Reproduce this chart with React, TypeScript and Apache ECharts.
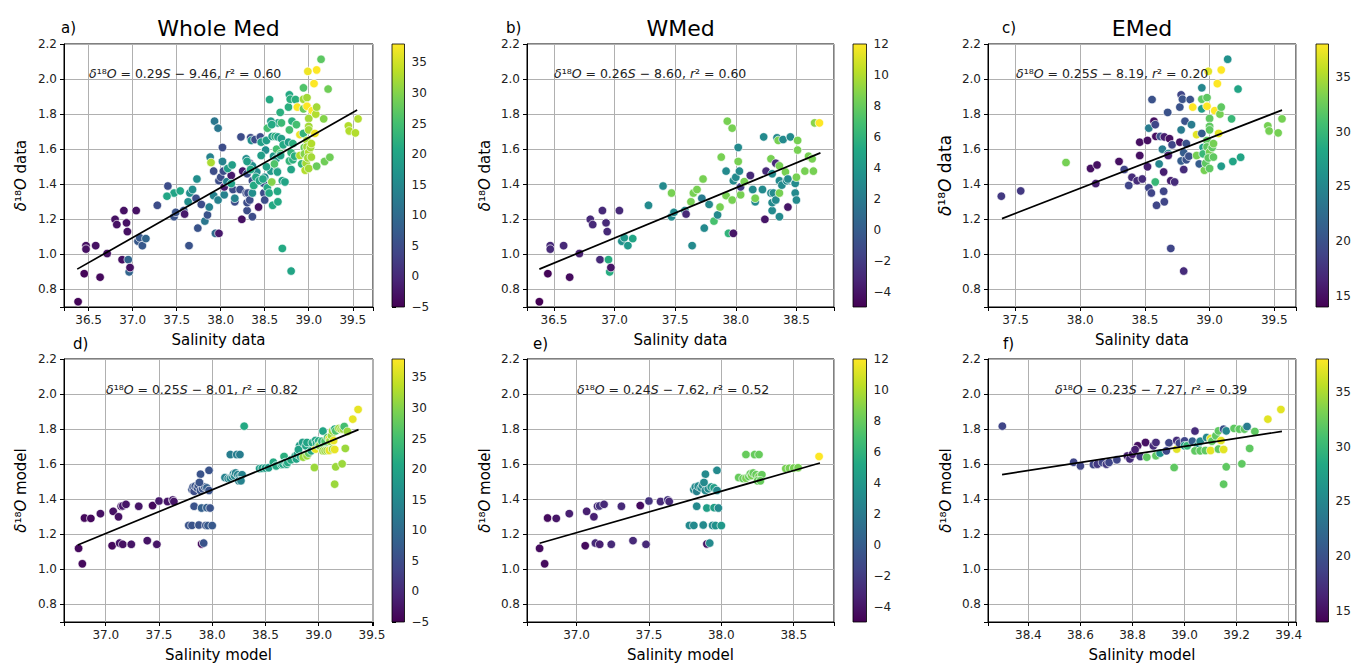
import { useEffect, useRef } from 'react';
import * as echarts from 'echarts';

// ---------- DATA ----------
const titles = ['Whole Med', 'WMed', 'EMed'];
const panelLetters = ['a)', 'b)', 'c)', 'd)', 'e)', 'f)'];
const xAxisNames = ['Salinity data', 'Salinity model'];
const yAxisNames = ['data', 'model'];
const equations = [
  ['0.29', '9.46', '0.60'],
  ['0.26', '8.60', '0.60'],
  ['0.25', '8.19', '0.20'],
  ['0.25', '8.01', '0.82'],
  ['0.24', '7.62', '0.52'],
  ['0.23', '7.27', '0.39'],
];

// [salinity, d18O, colour value]
const wholeData: number[][] = [
  [36.38,0.73,-4.5],[36.45,0.89,-4.5],[36.47,1.05,-3],[36.47,1.03,-3],[36.58,1.05,-3],[36.71,1.005,-3],[36.63,0.87,-4],
  [36.8,1.2,-3],[36.82,1.17,-3],[36.9,1.25,-3],[36.93,1.18,-3],[36.94,1.13,-3],[36.88,0.97,-3],[36.95,0.97,9],
  [36.96,0.9,9],[36.97,0.925,-3],[37.04,1.25,-3],[37.06,1.075,7],[37.08,1.095,7],[37.11,1.05,7],[37.15,1.09,9],
  [37.28,1.28,5],[37.4,1.39,5],[37.47,1.35,20],[37.47,1.215,6],[37.49,1.24,6],[37.58,1.25,6],[37.59,1.23,-2],
  [37.63,1.3,16],[37.65,1.35,16],[37.68,1.37,16],[37.73,1.43,16],[37.64,1.05,6],[37.72,1.32,5],[37.74,1.15,6],
  [37.78,1.285,5],[37.82,1.19,12],[37.85,1.225,6],[37.88,1.555,14],[37.87,1.27,14],[37.92,1.475,5],[37.92,1.335,14],
  [37.93,1.76,12],[37.97,1.72,12],[37.94,1.12,10],[37.98,1.12,-2],[37.97,1.31,14],[37.98,1.42,5],[38.0,1.44,5],
  [38.02,1.61,5],[38.02,1.53,14],[38.03,1.475,5],[38.04,1.34,14],[38.04,1.385,-2],[38.07,1.415,14],[38.12,1.45,-2],
  [38.14,1.37,5],[38.16,1.3,5],[38.16,1.32,14],[38.23,1.67,5],[38.22,1.37,5],[38.24,1.2,-3],[38.25,1.475,-2],
  [38.29,1.545,16],[38.3,1.46,5],[38.29,1.35,5],[38.31,1.35,5],[38.3,1.25,5],[38.3,1.295,5],[38.33,1.52,-2],
  [38.33,1.31,5],[38.34,1.665,5],[38.35,1.65,16],[38.36,1.505,16],[38.36,1.42,5],[38.36,1.215,5],[38.36,1.35,16],
  [38.39,1.655,5],[38.38,1.395,5],[38.41,1.47,16],[38.42,1.42,5],[38.43,1.27,-3],[38.45,1.67,5],[38.43,1.43,5],
  [38.49,1.35,5],[38.5,1.31,5],[38.49,1.405,5],[38.51,1.65,16],[38.51,1.595,16],[38.5,1.44,16],[38.57,1.475,18],
  [38.6,1.56,18],[38.63,1.545,18],[38.64,1.475,18],[38.65,1.75,20],[38.69,1.75,24],
  [37.39,1.332,20.5],[37.54,1.362,20.5],[37.89,1.524,32.5],[38.08,1.49,19],[38.13,1.51,19],[38.12,1.404,19.5],
  [38.3,1.53,19],[38.34,1.484,21],[38.375,1.393,21],[38.4,1.44,20],[38.44,1.42,20],[38.46,1.64,19],[38.46,1.564,19],
  [38.48,1.43,20],[38.52,1.5,19.5],[38.52,1.65,19],[38.53,1.72,25],[38.53,1.38,21],[38.55,1.35,21],[38.555,1.883,21],
  [38.57,1.76,19],[38.58,1.74,21],[38.58,1.413,30],[38.585,1.673,19],[38.59,1.28,21],[38.61,1.516,26],[38.62,1.673,22],
  [38.635,1.6,25],[38.645,1.47,19.5],[38.645,1.36,21],[38.65,1.3,21],[38.65,1.67,19.5],[38.676,1.81,22],[38.68,1.575,26],
  [38.68,1.564,19.5],[38.69,1.66,19],[38.7,1.42,19.5],[38.7,1.034,21],[38.73,1.413,20],[38.71,1.625,21],[38.77,1.64,19],
  [38.77,1.84,22],[38.78,1.91,21],[38.79,1.885,22],[38.78,1.71,25],[38.78,1.533,23],[38.8,1.484,20],[38.8,1.58,23],
  [38.8,0.905,20],[38.81,1.76,22],[38.82,1.632,22],[38.82,1.54,22],[38.85,1.883,22],[38.86,1.74,25],[38.84,1.56,22],
  [38.87,1.84,38],[38.9,1.683,37],[38.9,1.564,33],[38.92,1.516,23],[38.94,1.95,26],[38.94,1.885,32],[38.94,1.83,28],
  [38.94,1.69,23],[38.95,1.61,28],[38.95,1.573,30],[38.96,1.48,33],[38.97,1.52,32],[38.98,1.894,32],[38.98,1.845,38],
  [38.98,1.65,32],[38.98,1.613,32],[38.99,2.044,37],[39.0,1.775,32],[39.0,1.73,32],[39.0,1.71,32],[39.0,1.583,33],
  [39.0,1.49,32],[38.99,1.55,32],[39.02,1.61,32],[39.03,1.632,33],[39.03,1.555,32],[39.04,1.82,38],[39.06,1.974,38],
  [39.09,2.052,38],[39.08,1.8,33],[39.09,1.84,32],[39.07,1.69,37],[39.09,1.503,28],[39.14,2.113,27],[39.17,1.773,30],
  [39.18,1.53,28.5],[39.22,1.943,28.5],[39.24,1.554,28.5],[39.45,1.733,33],[39.46,1.704,33],[39.53,1.693,33],[39.56,1.773,33],
];

const wmedData: number[][] = [
  [36.38,0.73,-5],[36.45,0.89,-4.8],[36.47,1.05,-3],[36.47,1.03,-3],[36.58,1.05,-3],[36.71,1.005,-3.5],[36.63,0.87,-4.5],
  [36.8,1.2,-3],[36.82,1.17,-3],[36.9,1.25,-3],[36.93,1.18,-3],[36.94,1.13,-3],[36.88,0.97,-3],[36.95,0.97,5.5],
  [36.96,0.9,5.5],[36.97,0.925,-4],[37.04,1.25,-3],[37.06,1.075,3.5],[37.08,1.095,4],[37.11,1.05,4],[37.15,1.09,5],
  [37.28,1.28,3],[37.4,1.39,3],[37.47,1.35,8.5],[37.47,1.215,3],[37.49,1.24,3],[37.58,1.25,3],[37.59,1.23,-3],
  [37.63,1.3,8.5],[37.65,1.35,8.5],[37.68,1.37,8.5],[37.73,1.43,8.5],[37.64,1.05,3],[37.72,1.32,2],[37.74,1.15,3],
  [37.78,1.285,3],[37.82,1.19,7],[37.85,1.225,3],[37.88,1.555,8.5],[37.87,1.27,8.5],[37.92,1.475,3],[37.92,1.335,8.5],
  [37.93,1.76,8.5],[37.97,1.72,8.5],[37.94,1.12,6],[37.98,1.12,-4],[37.97,1.31,8.5],[37.98,1.42,3],[38.0,1.44,3],
  [38.02,1.61,3],[38.02,1.53,8.5],[38.03,1.475,3],[38.04,1.34,8.5],[38.04,1.385,-2],[38.07,1.415,8.5],[38.12,1.45,-3],
  [38.14,1.37,3],[38.16,1.3,3],[38.16,1.32,8.5],[38.23,1.67,3],[38.22,1.37,3],[38.24,1.2,-4],[38.25,1.475,-3],
  [38.29,1.545,8.5],[38.3,1.46,3],[38.29,1.35,3],[38.31,1.35,3],[38.3,1.25,3],[38.3,1.295,3],[38.33,1.52,-3],
  [38.33,1.31,3],[38.34,1.665,3],[38.35,1.65,8.5],[38.36,1.505,8.5],[38.36,1.42,3],[38.36,1.215,3],[38.36,1.35,8.5],
  [38.39,1.655,3],[38.38,1.395,3],[38.41,1.47,8.5],[38.42,1.42,3],[38.43,1.27,-4],[38.45,1.67,3],[38.43,1.43,3],
  [38.49,1.35,3],[38.5,1.31,3],[38.49,1.405,3],[38.51,1.65,8.5],[38.51,1.595,8.5],[38.5,1.44,8.5],[38.57,1.475,8.5],
  [38.6,1.56,8.5],[38.63,1.545,8.5],[38.64,1.475,8.5],[38.65,1.75,9],[38.69,1.75,12],
];

const emedData: number[][] = [
  [37.39,1.332,18],[37.54,1.362,18],[37.89,1.524,33],[38.08,1.49,15],[38.13,1.51,15],[38.12,1.404,16],[38.3,1.53,15],
  [38.34,1.484,19],[38.375,1.393,19],[38.4,1.44,17],[38.44,1.42,17],[38.46,1.64,15],[38.46,1.564,15],[38.48,1.43,17],
  [38.52,1.5,16],[38.52,1.65,15],[38.53,1.72,24],[38.53,1.38,19],[38.55,1.35,19],[38.555,1.883,20],[38.57,1.76,15],
  [38.58,1.74,19],[38.58,1.413,30],[38.585,1.673,15],[38.59,1.28,19],[38.61,1.516,25],[38.62,1.673,20],[38.635,1.6,24],
  [38.645,1.47,16],[38.645,1.36,19],[38.65,1.3,19],[38.65,1.67,16],[38.676,1.81,20],[38.68,1.575,25],[38.68,1.564,16],
  [38.69,1.66,15],[38.7,1.42,16],[38.7,1.034,19],[38.73,1.413,17],[38.71,1.625,19],[38.77,1.64,15],[38.77,1.84,20],
  [38.78,1.91,19],[38.79,1.885,20],[38.78,1.71,24],[38.78,1.533,21],[38.8,1.484,17],[38.8,1.58,21],[38.8,0.905,17],
  [38.81,1.76,20],[38.82,1.632,20],[38.82,1.54,20],[38.85,1.883,20],[38.86,1.74,24],[38.84,1.56,20],[38.87,1.84,38],
  [38.9,1.683,37],[38.9,1.564,33],[38.92,1.516,21],[38.94,1.95,25],[38.94,1.885,32],[38.94,1.83,27],[38.94,1.69,21],
  [38.95,1.61,27],[38.95,1.573,30],[38.96,1.48,33],[38.97,1.52,32],[38.98,1.894,32],[38.98,1.845,38],[38.98,1.65,32],
  [38.98,1.613,32],[38.99,2.044,37],[39.0,1.775,32],[39.0,1.73,32],[39.0,1.71,32],[39.0,1.583,33],[39.0,1.49,32],
  [38.99,1.55,32],[39.02,1.61,32],[39.03,1.632,33],[39.03,1.555,32],[39.04,1.82,38],[39.06,1.974,38],[39.09,2.052,38],
  [39.08,1.8,33],[39.09,1.84,32],[39.07,1.69,37],[39.09,1.503,27],[39.14,2.113,26],[39.17,1.773,30],[39.18,1.53,28],
  [39.22,1.943,28],[39.24,1.554,28],[39.45,1.733,33],[39.46,1.704,33],[39.53,1.693,33],[39.56,1.773,33],
];

const wholeModel: number[][] = [
  [36.745,1.12,-4],[36.78,1.032,-4],[36.8,1.293,-4],[36.86,1.291,-4],[36.95,1.318,-3],[37.06,1.135,-4],[37.07,1.331,-3],
  [37.12,1.3,-3],[37.13,1.15,-2.5],[37.16,1.143,-3],[37.145,1.36,-2.5],[37.16,1.362,-2],[37.19,1.371,-2.5],[37.24,1.143,-2.5],
  [37.31,1.36,-2.5],[37.39,1.164,-2.5],[37.44,1.364,-4],[37.48,1.143,-2.5],[37.5,1.39,-2],[37.58,1.387,-2.5],[37.63,1.396,-2],
  [37.64,1.387,-2.5],[37.78,1.251,6],[37.81,1.251,6],[37.875,1.253,6],[37.94,1.251,6],[37.96,1.25,7],[38.0,1.25,7],
  [37.83,1.36,6],[37.9,1.35,8],[37.95,1.352,8],[37.98,1.35,6],[37.81,1.455,6],[37.82,1.47,6],[37.83,1.445,5],[37.84,1.475,6],
  [37.86,1.465,6],[37.87,1.48,6],[37.89,1.45,6],[37.91,1.46,6],[37.93,1.47,7],[37.95,1.465,8],[37.97,1.45,6],[37.89,1.543,6],
  [37.88,1.496,6],[37.97,1.565,6],[37.9,1.145,-4],[37.92,1.15,6],[38.12,1.524,14],[38.15,1.518,14],[38.17,1.52,15],
  [38.19,1.53,14],[38.2,1.545,14],[38.21,1.535,15],[38.22,1.55,14],[38.24,1.54,14],[38.26,1.53,15],[38.28,1.54,14],
  [38.25,1.505,14],[38.27,1.505,14],[38.17,1.655,13],[38.23,1.655,13],[38.26,1.655,13],[38.445,1.575,19],[38.47,1.577,19],
  [38.5,1.578,19],[38.53,1.58,19],[38.675,1.644,22],
  [38.3,1.817,21],[38.574,1.611,21],[38.6,1.59,21],[38.65,1.598,21],[38.665,1.6,20.5],[38.685,1.61,21],[38.7,1.6,20.5],
  [38.71,1.61,21],[38.74,1.625,21],[38.78,1.647,19.5],[38.79,1.63,20],[38.8,1.657,19.5],[38.82,1.705,19],[38.81,1.683,19.5],
  [38.83,1.644,20.5],[38.85,1.724,19],[38.855,1.64,31.5],[38.88,1.705,20],[38.89,1.724,20],[38.89,1.648,31.5],[38.906,1.663,27],
  [38.94,1.722,21],[38.93,1.676,21],[38.96,1.581,31.5],[38.97,1.686,36.5],[38.97,1.735,20],[38.98,1.72,21],[39.0,1.733,21],
  [39.0,1.705,28],[39.01,1.705,30],[39.03,1.731,23],[39.04,1.789,20],[39.05,1.705,27],[39.04,1.676,31.5],[39.06,1.676,31.5],
  [39.08,1.678,31.5],[39.1,1.678,36.5],[39.06,1.731,26],[39.085,1.752,26],[39.1,1.746,36.5],[39.105,1.731,31.5],[39.12,1.762,31.5],
  [39.13,1.79,31.5],[39.13,1.686,31.5],[39.15,1.684,36.5],[39.14,1.735,36.5],[39.15,1.486,31.5],[39.16,1.585,31.5],[39.15,1.8,22],
  [39.16,1.79,26],[39.19,1.804,31.5],[39.21,1.8,31.5],[39.23,1.8,31.5],[39.24,1.815,25],[39.22,1.602,31.5],[39.25,1.69,31.5],
  [39.27,1.787,31.5],[39.32,1.857,36.5],[39.37,1.912,36.5],
];

const wmedModel: number[][] = [
  [36.745,1.12,-4.5],[36.78,1.032,-4.5],[36.8,1.293,-4.5],[36.86,1.291,-4],[36.95,1.318,-3.5],[37.06,1.135,-4.5],[37.07,1.331,-3.5],
  [37.12,1.3,-3.5],[37.13,1.15,-3],[37.16,1.143,-3.5],[37.145,1.36,-3],[37.16,1.362,-2.5],[37.19,1.371,-3],[37.24,1.143,-3],
  [37.31,1.36,-3],[37.39,1.164,-3],[37.44,1.364,-4.5],[37.48,1.143,-3],[37.5,1.39,-2.5],[37.58,1.387,-3],[37.63,1.396,-2.5],
  [37.64,1.387,-3],[37.78,1.251,3],[37.81,1.251,3],[37.875,1.253,3],[37.94,1.251,3],[37.96,1.25,3.5],[38.0,1.25,4],
  [37.83,1.36,3],[37.9,1.35,4.5],[37.95,1.352,4.5],[37.98,1.35,3],[37.81,1.455,3],[37.82,1.47,3],[37.83,1.445,2.5],[37.84,1.475,3],
  [37.86,1.465,3],[37.87,1.48,3],[37.89,1.45,3],[37.91,1.46,3],[37.93,1.47,4],[37.95,1.465,4.5],[37.97,1.45,3],[37.89,1.543,3],
  [37.88,1.496,3],[37.97,1.565,3],[37.9,1.145,-4],[37.92,1.15,3],[38.12,1.524,8],[38.15,1.518,8],[38.17,1.52,8.5],
  [38.19,1.53,8],[38.2,1.545,8],[38.21,1.535,8.5],[38.22,1.55,8],[38.24,1.54,8],[38.26,1.53,8.5],[38.28,1.54,8],
  [38.25,1.505,8],[38.27,1.505,8],[38.17,1.655,8],[38.23,1.655,8],[38.26,1.655,8],[38.445,1.575,8.5],[38.47,1.577,8.5],
  [38.5,1.578,8.5],[38.53,1.58,8.5],[38.675,1.644,12],
];

const emedModel: number[][] = [
  [38.3,1.817,19],[38.574,1.611,19],[38.6,1.59,19],[38.65,1.598,19],[38.665,1.6,18],[38.685,1.61,19],[38.7,1.6,18],
  [38.71,1.61,19],[38.74,1.625,19],[38.78,1.647,16],[38.79,1.63,17],[38.8,1.657,16],[38.82,1.705,15],[38.81,1.683,16],
  [38.83,1.644,18],[38.85,1.724,15],[38.855,1.64,32],[38.88,1.705,17],[38.89,1.724,17],[38.89,1.648,32],[38.906,1.663,26],
  [38.94,1.722,19],[38.93,1.676,19],[38.96,1.581,32],[38.97,1.686,37],[38.97,1.735,17],[38.98,1.72,19],[39.0,1.733,19],
  [39.0,1.705,27],[39.01,1.705,30],[39.03,1.731,21],[39.04,1.789,17],[39.05,1.705,26],[39.04,1.676,32],[39.06,1.676,32],
  [39.08,1.678,32],[39.1,1.678,37],[39.06,1.731,25],[39.085,1.752,25],[39.1,1.746,37],[39.105,1.731,32],[39.12,1.762,32],
  [39.13,1.79,32],[39.13,1.686,32],[39.15,1.684,37],[39.14,1.735,37],[39.15,1.486,32],[39.16,1.585,32],[39.15,1.8,20],
  [39.16,1.79,25],[39.19,1.804,32],[39.21,1.8,32],[39.23,1.8,32],[39.24,1.815,24],[39.22,1.602,32],[39.25,1.69,32],
  [39.27,1.787,32],[39.32,1.857,37],[39.37,1.912,37],
];

// regression line end points
const fitWhole = [[36.37, 0.916], [39.55, 1.823]];
const fitWmed = [[36.38, 0.916], [38.698, 1.579]];
const fitEmed = [[37.395, 1.204], [39.56, 1.823]];
const fitWholeModel = [[36.737, 1.139], [39.374, 1.797]];
const fitWmedModel = [[36.745, 1.149], [38.681, 1.607]];
const fitEmedModel = [[38.299, 1.541], [39.374, 1.787]];

const xRanges = [[36.22, 39.73], [36.278, 38.81], [37.287, 39.668], [36.608, 39.51], [36.658, 38.778], [38.245, 39.428]];
const xSteps = [0.5, 0.5, 0.5, 0.5, 0.5, 0.2];
const yRange = [0.7, 2.2];
const yStep = 0.2;
const colorRanges = [[-5, 38], [-5, 12], [14, 38], [-5, 38], [-5, 12], [14, 38]];
const colorTicks = [[-5, 35, 5], [-4, 12, 2], [15, 35, 5], [-5, 35, 5], [-4, 12, 2], [15, 35, 5]];

const viridis = ['#440154', '#482475', '#414487', '#355f8d', '#2a788e', '#21918c', '#22a884', '#44bf70', '#7ad151', '#bddf26', '#fde725'];

// ---------- LAYOUT ----------
const FONT = 'DejaVu Sans';
const COLS = [
  { left: 64, width: 309, cb: 392, cbw: 12.5, nameGap: 36, eqX: 89, letterX: 61 },
  { left: 527, width: 307, cb: 853, cbw: 13.5, nameGap: 35, eqX: 554, letterX: 506 },
  { left: 988, width: 308, cb: 1316, cbw: 12.5, nameGap: 35, eqX: 1016, letterX: 1002 },
];
const ROWS = [
  { top: 44, height: 263, eqY: 73, letterY: 28 },
  { top: 359, height: 263, eqY: 389, letterY: 344 },
];
const bottomEqX = [106, 577, 1055];
const bottomLetterX = [73, 533, 1003];

const isMultiple = (v: number, step: number) => Math.abs(v / step - Math.round(v / step)) < 1e-6;
const minus = (s: string) => s.replace('-', '\u2212');

export default function App() {
  const ref = useRef<HTMLDivElement>(null);
  useEffect(() => {
    document.body.style.margin = '0';
    const chart = echarts.init(ref.current!, null, { renderer: 'svg' });
    const datasets = [wholeData, wmedData, emedData, wholeModel, wmedModel, emedModel];
    const fits = [fitWhole, fitWmed, fitEmed, fitWholeModel, fitWmedModel, fitEmedModel];

    const plotGrids: any[] = [], cbGrids: any[] = [];
    const plotX: any[] = [], cbX: any[] = [];
    const plotY: any[] = [], cbY: any[] = [];
    const scatters: any[] = [], lines: any[] = [];
    const visualMap: any[] = [];
    const graphic: any[] = [];
    const stops = viridis.map((c, k) => ({ offset: k / (viridis.length - 1), color: c }));

    for (let i = 0; i < 6; i++) {
      const r = Math.floor(i / 3);
      const row = ROWS[r];
      const col = COLS[i % 3];
      plotGrids.push({ left: col.left, top: row.top, width: col.width, height: row.height, show: true, borderColor: '#000', borderWidth: 1, backgroundColor: 'transparent' });
      const step = xSteps[i];
      const [xmin, xmax] = xRanges[i];
      plotX.push({
        type: 'value', gridIndex: i, min: xmin, max: xmax,
        splitNumber: Math.round((xmax - xmin) / step),
        name: xAxisNames[r], nameLocation: 'middle', nameGap: 25,
        nameTextStyle: { fontFamily: FONT, fontSize: 15, color: '#000' },
        axisLine: { show: true, lineStyle: { color: '#000', width: 1 } },
        axisTick: { show: true, inside: false, length: 4, lineStyle: { color: '#000' } },
        axisLabel: { fontFamily: FONT, fontSize: 12, color: '#222', margin: 7, formatter: (v: number) => (isMultiple(v, step) ? v.toFixed(1) : '') },
        splitLine: { show: true, lineStyle: { color: '#b0b0b0', width: 1 } },
      });
      const nameSize = i === 2 ? 17 : 15;
      plotY.push({
        type: 'value', gridIndex: i, min: yRange[0], max: yRange[1],
        splitNumber: Math.round((yRange[1] - yRange[0]) / yStep),
        name: '{i|δ}¹⁸{i|O} ' + yAxisNames[r], nameLocation: 'middle', nameGap: col.nameGap, nameRotate: 90,
        nameTextStyle: {
          fontFamily: FONT, fontSize: nameSize, color: '#000',
          rich: { i: { fontFamily: FONT, fontSize: nameSize, fontStyle: 'italic', color: '#000' } },
        },
        axisLine: { show: true, lineStyle: { color: '#000', width: 1 } },
        axisTick: { show: true, inside: false, length: 4, lineStyle: { color: '#000' } },
        axisLabel: { fontFamily: FONT, fontSize: 12, color: '#222', margin: 7, formatter: (v: number) => (isMultiple(v, yStep) ? v.toFixed(1) : '') },
        splitLine: { show: true, lineStyle: { color: '#b0b0b0', width: 1 } },
      });
      scatters.push({
        type: 'scatter', xAxisIndex: i, yAxisIndex: i, data: datasets[i], symbolSize: 8.5, z: 2,
        itemStyle: { borderColor: '#ffffff', borderWidth: 0.7, opacity: 1 },
      });
      lines.push({
        type: 'line', xAxisIndex: i, yAxisIndex: i, data: fits[i], symbol: 'none', z: 5, silent: true,
        lineStyle: { color: '#000', width: 1.7 },
      });
      const [cmin, cmax] = colorRanges[i];
      visualMap.push({ type: 'continuous', show: false, seriesIndex: i, dimension: 2, min: cmin, max: cmax, inRange: { color: viridis } });

      // colorbar
      graphic.push({
        type: 'rect', z: 10,
        shape: { x: col.cb, y: row.top, width: col.cbw, height: row.height },
        style: { fill: new echarts.graphic.LinearGradient(0, 1, 0, 0, stops), stroke: '#000', lineWidth: 0.8 },
      });
      const [tmin, tmax, tstep] = colorTicks[i];
      const yOf = (v: number) => row.top + (row.height * (cmax - v)) / (cmax - cmin);
      cbGrids.push({ left: col.cb, top: yOf(tmax), width: col.cbw, height: yOf(tmin) - yOf(tmax), show: false });
      cbX.push({ type: 'value', gridIndex: 6 + i, show: false, min: 0, max: 1 });
      cbY.push({
        type: 'value', gridIndex: 6 + i, position: 'right', min: tmin, max: tmax, interval: tstep,
        axisLine: { show: false },
        axisTick: { show: true, inside: false, length: 4, lineStyle: { color: '#000' } },
        axisLabel: { fontFamily: FONT, fontSize: 12, color: '#222', margin: 7, formatter: (v: number) => minus(String(v)) },
        splitLine: { show: false },
      });

      // equation
      const [a, b, r2] = equations[i];
      graphic.push({
        type: 'text', z: 20,
        x: r === 0 ? col.eqX : bottomEqX[i % 3], y: row.eqY,
        style: {
          text: `{i|δ}¹⁸{i|O} = ${a}{i|S} − ${b}, {i|r}² = ${r2}`,
          fontFamily: FONT, fontSize: 12.5, fill: '#222',
          align: 'left', verticalAlign: 'middle', textAlign: 'left', textVerticalAlign: 'middle',
          rich: { i: { fontFamily: FONT, fontSize: 12.5, fontStyle: 'italic', fill: '#222', color: '#222' } },
        },
      });
      // panel letter
      graphic.push({
        type: 'text', z: 20,
        x: r === 0 ? col.letterX : bottomLetterX[i % 3], y: row.letterY,
        style: { text: panelLetters[i], fontFamily: FONT, fontSize: 15, fill: '#000', align: 'left', verticalAlign: 'middle', textAlign: 'left', textVerticalAlign: 'middle' },
      });
    }
    for (let c = 0; c < 3; c++) {
      const col = COLS[c];
      graphic.push({
        type: 'text', z: 20, x: col.left + col.width / 2, y: 28,
        style: { text: titles[c], fontFamily: FONT, fontSize: 22, fill: '#000', align: 'center', verticalAlign: 'middle', textAlign: 'center', textVerticalAlign: 'middle' },
      });
    }

    chart.setOption({
      animation: false, backgroundColor: '#fff',
      grid: [...plotGrids, ...cbGrids],
      xAxis: [...plotX, ...cbX],
      yAxis: [...plotY, ...cbY],
      series: [...scatters, ...lines],
      visualMap, graphic,
    });
    return () => chart.dispose();
  }, []);
  return <div ref={ref} style={{ width: 1355, height: 664 }} />;
}
